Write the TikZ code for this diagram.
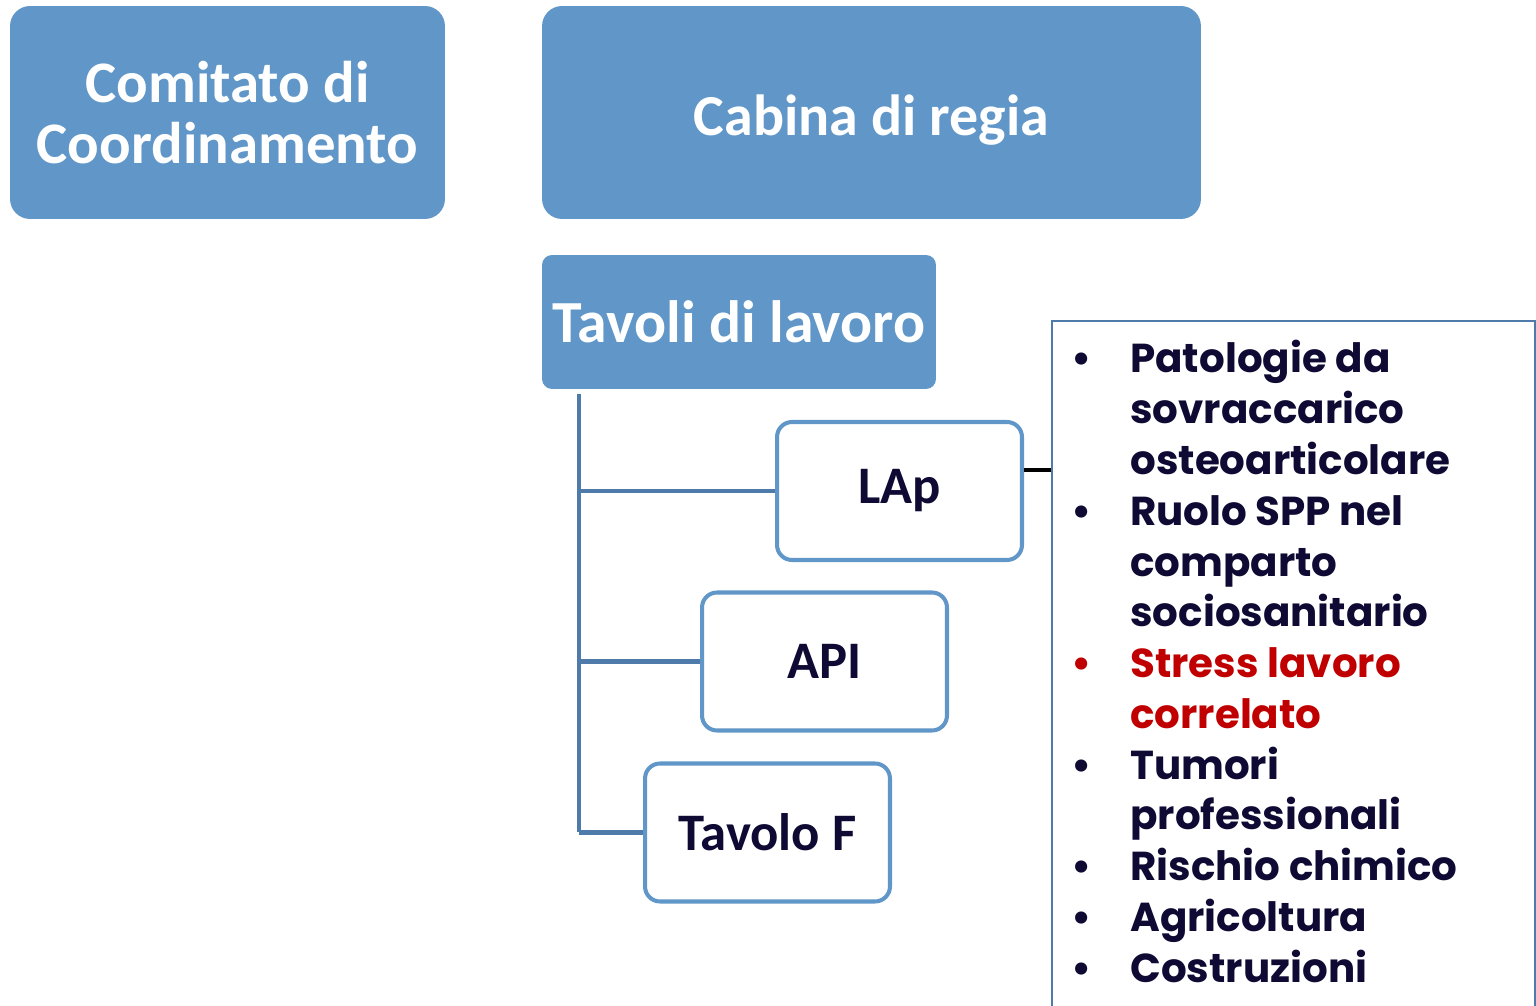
\documentclass[tikz,border=0pt]{standalone}
\usepackage{fontspec}
\setmainfont{Carlito}
\newfontfamily\listfont{Poppins}
\definecolor{blu}{HTML}{6096C8}
\definecolor{bluscuro}{HTML}{4E7BAA}
\definecolor{notte}{HTML}{0E0A33}
\definecolor{rosso}{HTML}{C00000}
\begin{document}
\begin{tikzpicture}[x=0.02cm,y=-0.02cm,
    blubox/.style={fill=blu, text=white, align=center, inner sep=0pt, font=\bfseries},
    tavolo/.style={draw=blu, line width=2.3pt, fill=white, rounded corners=0.3cm, text=notte,
        minimum width=4.9cm, minimum height=2.76cm, font=\fontsize{30}{30}\selectfont\bfseries},
    ramo/.style={draw=bluscuro, line width=2.6pt}]
    \useasboundingbox (0,0) rectangle (1536,1006);
    \node [blubox, rounded corners=0.4cm, minimum width=8.7cm, minimum height=4.26cm,
        font=\fontsize{33.5}{35}\selectfont\bfseries] (comitato) at (227.5,112.5) {Comitato di\\Coordinamento};
    \node [blubox, rounded corners=0.4cm, minimum width=13.18cm, minimum height=4.26cm,
        font=\fontsize{33}{35}\selectfont\bfseries] (cabina) at (871.5,112.5) {\raisebox{-4.3pt}[\height][\depth]{Cabina di regia}};
    \node [blubox, rounded corners=0.2cm, minimum width=7.88cm, minimum height=2.68cm,
        font=\fontsize{34}{34}\selectfont\bfseries] (tavoli) at (739,322) {Tavoli di lavoro};
    \node [tavolo] (lap) at (899.5,491) {LAp};
    \node [tavolo] (api) at (824.5,661.5) {API};
    \node [tavolo] (tf) at (767.5,832.5) {Tavolo F};
    % albero dei tavoli
    \path (579,394) coordinate (radice);
    \draw [ramo] (radice) -- (radice |- tf.west);
    \foreach \t in {lap,api,tf} \draw [ramo] (radice |- \t.west) -- (\t.west);
    % elenco dei temi
    \node [draw=bluscuro, line width=1.1pt, anchor=north west, minimum width=9.66cm,
        minimum height=14.6cm, inner sep=0pt] (temi) at (1051,320) {};
    \node [anchor=base west, inner sep=0pt, text=notte, align=left,
        font=\listfont\fontsize{23}{28.9}\selectfont\bfseries] (lista) at (1071,373) {%
        \begin{tabular}[t]{@{}p{1.18cm}@{}l@{}}
        \textbullet & Patologie da\\
                    & sovraccarico\\
                    & osteoarticolare\\
        \textbullet & Ruolo SPP nel\\
                    & comparto\\
                    & sociosanitario\\
        \textcolor{rosso}{\textbullet} & \textcolor{rosso}{Stress lavoro}\\
                    & \textcolor{rosso}{correlato}\\
        \textbullet & Tumori\\
                    & professionali\\
        \textbullet & Rischio chimico\\
        \textbullet & Agricoltura\\
        \textbullet & Costruzioni
        \end{tabular}};
    \path (lap.east |- 0,470) coordinate (k);
    \draw [line width=2.2pt] (k) -- (k -| temi.west);
\end{tikzpicture}
\end{document}
